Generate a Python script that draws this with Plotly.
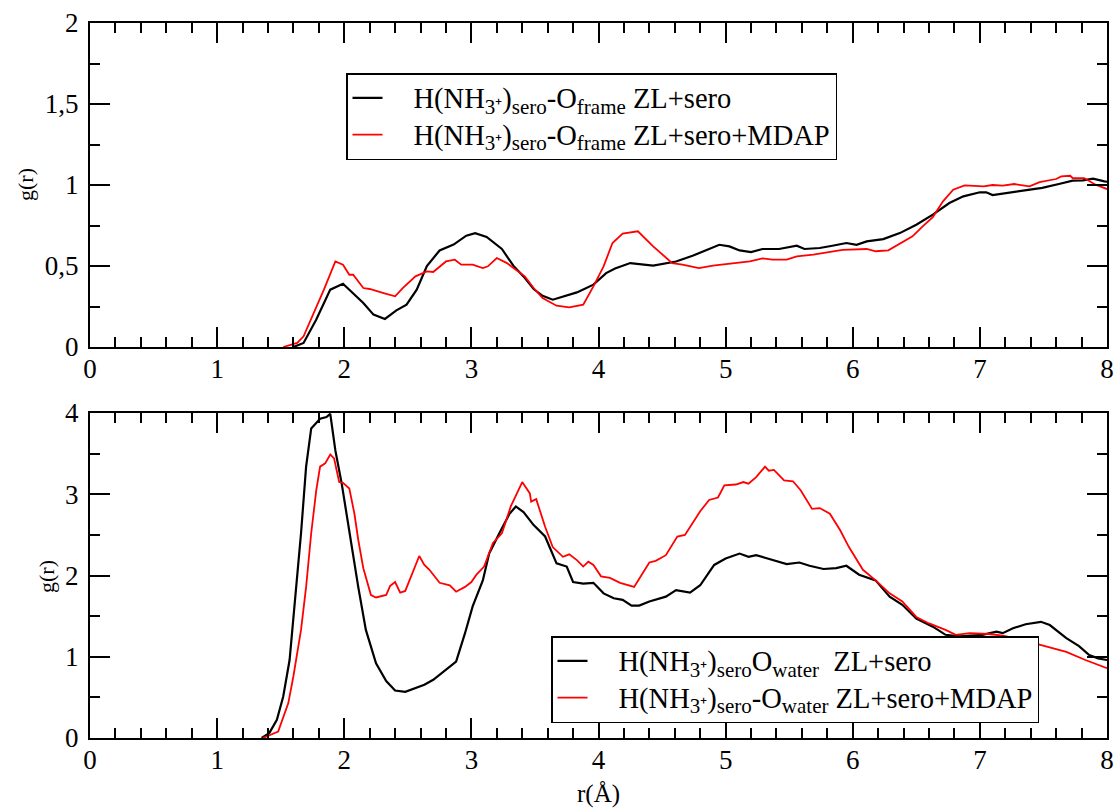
import plotly.graph_objects as go

# ---- data ----
r_frame_zl = [1.60, 1.68, 1.78, 1.89, 1.99, 2.07, 2.15, 2.23, 2.32, 2.41, 2.49, 2.57, 2.65, 2.75, 2.86, 2.96, 3.03,
              3.12, 3.24, 3.33, 3.41, 3.49, 3.56, 3.64, 3.72, 3.83, 3.96, 4.06, 4.13, 4.25, 4.43, 4.61, 4.74, 4.85, 4.95,
              5.03, 5.11, 5.20, 5.29, 5.42, 5.56, 5.62, 5.74, 5.84, 5.95, 6.03, 6.11, 6.24, 6.37, 6.50, 6.63, 6.76, 6.87,
              7.00, 7.05, 7.10, 7.21, 7.36, 7.49, 7.63, 7.73, 7.81, 7.89, 7.98, 8.0]
g_frame_zl = [0, 0.025, 0.17, 0.354, 0.39, 0.333, 0.272, 0.20, 0.173, 0.226, 0.261, 0.354, 0.50, 0.596, 0.632, 0.687,
              0.703, 0.679, 0.605, 0.502, 0.436, 0.358, 0.316, 0.292, 0.309, 0.337, 0.385, 0.456, 0.485, 0.518, 0.502,
              0.528, 0.563, 0.600, 0.631, 0.621, 0.596, 0.586, 0.605, 0.605, 0.625, 0.605, 0.611, 0.625, 0.642, 0.631,
              0.652, 0.666, 0.703, 0.755, 0.817, 0.889, 0.930, 0.955, 0.955, 0.938, 0.951, 0.971, 0.982, 1.008, 1.027,
              1.029, 1.039, 1.022, 1.02]

r_frame_mdap = [1.52, 1.63, 1.68, 1.76, 1.84, 1.93, 1.99, 2.04, 2.07, 2.15, 2.20, 2.31, 2.40, 2.46, 2.56, 2.65, 2.70,
                2.80, 2.87, 2.92, 3.01, 3.09, 3.13, 3.20, 3.28, 3.35, 3.42, 3.49, 3.56, 3.67, 3.77, 3.88, 3.96, 4.04,
                4.11, 4.19, 4.31, 4.43, 4.58, 4.66, 4.79, 4.90, 5.06, 5.19, 5.29, 5.37, 5.48, 5.56, 5.69, 5.84, 5.92,
                6.11, 6.18, 6.28, 6.37, 6.47, 6.55, 6.63, 6.71, 6.79, 6.88, 7.03, 7.10, 7.18, 7.27, 7.39, 7.47, 7.60,
                7.64, 7.71, 7.73, 7.82, 7.91, 7.98, 8.0]
g_frame_mdap = [0, 0.025, 0.066, 0.21, 0.354, 0.528, 0.508, 0.446, 0.446, 0.364, 0.358, 0.333, 0.313, 0.364, 0.436,
                0.467, 0.463, 0.528, 0.539, 0.508, 0.508, 0.487, 0.498, 0.549, 0.518, 0.477, 0.436, 0.364, 0.302, 0.255,
                0.245, 0.261, 0.374, 0.498, 0.642, 0.700, 0.714, 0.621, 0.518, 0.508, 0.487, 0.502, 0.514, 0.528, 0.547,
                0.539, 0.539, 0.560, 0.570, 0.588, 0.600, 0.605, 0.591, 0.597, 0.638, 0.683, 0.745, 0.802, 0.899, 0.971,
                0.998, 0.992, 1.000, 0.996, 1.006, 0.992, 1.018, 1.037, 1.053, 1.057, 1.043, 1.043, 1.002, 0.982, 0.975]

r_water_zl = [1.35, 1.41, 1.47, 1.52, 1.57, 1.62, 1.66, 1.70, 1.74, 1.81, 1.86, 1.89, 1.93, 1.98, 2.04, 2.11, 2.17,
              2.25, 2.33, 2.40, 2.48, 2.57, 2.63, 2.70, 2.78, 2.88, 2.95, 3.01, 3.09, 3.14, 3.22, 3.30, 3.35, 3.41, 3.49,
              3.58, 3.67, 3.75, 3.80, 3.88, 3.96, 4.04, 4.12, 4.19, 4.26, 4.32, 4.40, 4.53, 4.61, 4.72, 4.80, 4.91, 5.00,
              5.11, 5.18, 5.24, 5.35, 5.48, 5.58, 5.66, 5.77, 5.87, 5.95, 6.05, 6.18, 6.29, 6.39, 6.50, 6.63, 6.73, 6.84,
              7.02, 7.13, 7.18, 7.26, 7.36, 7.48, 7.55, 7.68, 7.78, 7.86, 7.93, 8.0]
g_water_zl = [0, 0.06, 0.224, 0.51, 0.96, 1.78, 2.52, 3.34, 3.81, 3.93, 3.95, 3.99, 3.54, 3.13, 2.52, 1.86, 1.33, 0.92,
              0.70, 0.585, 0.569, 0.626, 0.655, 0.716, 0.818, 0.941, 1.29, 1.62, 1.94, 2.27, 2.52, 2.76, 2.85, 2.78, 2.62,
              2.48, 2.15, 2.11, 1.92, 1.90, 1.91, 1.78, 1.72, 1.70, 1.63, 1.63, 1.68, 1.74, 1.82, 1.79, 1.88, 2.13, 2.21,
              2.27, 2.23, 2.25, 2.20, 2.14, 2.16, 2.12, 2.08, 2.09, 2.12, 2.01, 1.94, 1.74, 1.64, 1.47, 1.37, 1.27, 1.25,
              1.27, 1.31, 1.29, 1.35, 1.40, 1.43, 1.39, 1.23, 1.13, 1.02, 0.98, 0.96]

r_water_mdap = [1.36, 1.48, 1.56, 1.60, 1.66, 1.70, 1.74, 1.78, 1.81, 1.85, 1.89, 1.92, 1.96, 1.99, 2.04, 2.08, 2.11,
                2.15, 2.21, 2.25, 2.33, 2.36, 2.40, 2.44, 2.48, 2.54, 2.59, 2.63, 2.67, 2.75, 2.83, 2.88, 2.95, 3.00,
                3.04, 3.10, 3.17, 3.24, 3.31, 3.40, 3.46, 3.47, 3.51, 3.58, 3.64, 3.72, 3.77, 3.83, 3.88, 3.92, 3.96,
                4.02, 4.09, 4.17, 4.28, 4.34, 4.40, 4.45, 4.53, 4.62, 4.68, 4.80, 4.87, 4.94, 4.99, 5.08, 5.14, 5.18,
                5.24, 5.31, 5.34, 5.38, 5.46, 5.53, 5.59, 5.68, 5.74, 5.82, 5.90, 5.97, 6.08, 6.18, 6.29, 6.39, 6.50,
                6.60, 6.73, 6.81, 6.92, 7.07, 7.18, 7.30, 7.42, 7.53, 7.68, 7.83, 8.0]
g_water_mdap = [0, 0.08, 0.43, 0.76, 1.33, 1.86, 2.52, 3.05, 3.34, 3.38, 3.49, 3.44, 3.15, 3.14, 3.07, 2.76, 2.44, 2.09,
                1.76, 1.73, 1.76, 1.87, 1.92, 1.79, 1.81, 2.05, 2.24, 2.13, 2.07, 1.91, 1.88, 1.80, 1.86, 1.92, 2.01, 2.11,
                2.40, 2.52, 2.85, 3.15, 3.01, 2.91, 2.94, 2.60, 2.35, 2.23, 2.26, 2.19, 2.11, 2.17, 2.13, 1.99, 1.97, 1.91,
                1.86, 2.01, 2.16, 2.18, 2.25, 2.48, 2.50, 2.79, 2.93, 2.96, 3.11, 3.12, 3.15, 3.13, 3.21, 3.34, 3.29, 3.30,
                3.17, 3.16, 3.05, 2.82, 2.83, 2.76, 2.56, 2.35, 2.07, 1.94, 1.78, 1.68, 1.49, 1.41, 1.33, 1.27, 1.29, 1.28,
                1.26, 1.22, 1.17, 1.13, 1.06, 0.96, 0.86]


def sub(t):
    return "<sub><span style='font-size:21px'>" + t + "</span></sub>"


def big(t):
    return "<span style='font-size:28.5px'>" + t + "</span>"


GAP = "\u00a0\u00a0\u00a0\u00a0"
NH3 = big("H(NH") + sub("3⁺") + big(")") + sub("sero")
names_top = [GAP + NH3 + big("-O") + sub("frame") + big(" ZL+sero"),
             GAP + NH3 + big("-O") + sub("frame") + big(" ZL+sero+MDAP")]
names_bottom = [GAP + NH3 + big("O") + sub("water") + big("\u00a0 ZL+sero"),
                GAP + NH3 + big("-O") + sub("water") + big(" ZL+sero+MDAP")]

FONT = "Liberation Serif"

fig = go.Figure()
fig.add_trace(go.Scatter(x=r_frame_zl, y=g_frame_zl, mode="lines", name=names_top[0],
                         line=dict(color="black", width=2.2), xaxis="x", yaxis="y", legend="legend"))
fig.add_trace(go.Scatter(x=r_frame_mdap, y=g_frame_mdap, mode="lines", name=names_top[1],
                         line=dict(color="#ff0000", width=1.8), xaxis="x", yaxis="y", legend="legend"))
fig.add_trace(go.Scatter(x=r_water_zl, y=g_water_zl, mode="lines", name=names_bottom[0],
                         line=dict(color="black", width=2.2), xaxis="x2", yaxis="y2", legend="legend2"))
fig.add_trace(go.Scatter(x=r_water_mdap, y=g_water_mdap, mode="lines", name=names_bottom[1],
                         line=dict(color="#ff0000", width=1.8), xaxis="x2", yaxis="y2", legend="legend2"))

axis_common = dict(showline=True, linecolor="black", linewidth=2, mirror="ticks", ticks="inside",
                   ticklen=20, tickwidth=1.5, tickcolor="black", showgrid=False, zeroline=False,
                   automargin=False, tickfont=dict(family=FONT, size=27, color="black"))

xaxis_common = dict(axis_common, range=[0, 8], dtick=1, tick0=0, ticklabelstandoff=-3,
                    minor=dict(ticks="inside", ticklen=10, tickwidth=1.5, tickcolor="black", dtick=0.2, showgrid=False))

W, H = 1116, 809
PL, PR, PT, PB = 90, 1107, 23, 738          # plot area in page pixels
L, R, T, B = PL, W - PR, PT, H - PB
plot_h = PB - PT
plot_w = PR - PL


def py(px):
    return (PB - px) / plot_h


def pxx(px):
    return (px - PL) / plot_w


fig.update_layout(
    width=W, height=H,
    margin=dict(l=L, r=R, t=T, b=B, autoexpand=False),
    paper_bgcolor="white", plot_bgcolor="white",
    separators=", ",
    font=dict(family=FONT, size=26, color="black"),
    xaxis=dict(xaxis_common, anchor="y", domain=[0, 1]),
    yaxis=dict(axis_common, anchor="x", domain=[py(347), 1], range=[0, 2], dtick=0.5, tick0=0,
               ticklabelstandoff=4,
               minor=dict(ticks="inside", ticklen=10, tickwidth=1.5, tickcolor="black", dtick=0.25, showgrid=False)),
    xaxis2=dict(xaxis_common, anchor="y2", domain=[0, 1]),
    yaxis2=dict(axis_common, anchor="x2", domain=[0, py(413)], range=[0, 4], dtick=1, tick0=0,
                ticklabelstandoff=4,
                minor=dict(ticks="inside", ticklen=10, tickwidth=1.5, tickcolor="black", dtick=0.5, showgrid=False)),
    legend=dict(x=pxx(346), y=py(73), xanchor="left", yanchor="top", bgcolor="white",
                bordercolor="black", borderwidth=1.5, font=dict(family=FONT, size=26, color="black")),
    legend2=dict(x=pxx(551), y=py(636), xanchor="left", yanchor="top", bgcolor="white",
                 bordercolor="black", borderwidth=1.5, font=dict(family=FONT, size=26, color="black")),
    showlegend=True,
    annotations=[
        dict(text="g(r)", xref="paper", yref="paper", x=pxx(25), y=py(185), showarrow=False,
             textangle=-90, font=dict(family=FONT, size=22, color="black"), xanchor="center", yanchor="middle"),
        dict(text="g(r)", xref="paper", yref="paper", x=pxx(46), y=py(577), showarrow=False,
             textangle=-90, font=dict(family=FONT, size=22, color="black"), xanchor="center", yanchor="middle"),
        dict(text="r(Å)", xref="paper", yref="paper", x=pxx(598), y=py(794), showarrow=False,
             font=dict(family=FONT, size=25, color="black"), xanchor="center", yanchor="middle"),
    ],
)

# remove the default 8px page margin so the figure fills the window exactly; hide the modebar
fig.write_html("out.html",
               config={"displayModeBar": False},
               post_script="document.body.style.margin='0';document.body.style.overflow='hidden';")
